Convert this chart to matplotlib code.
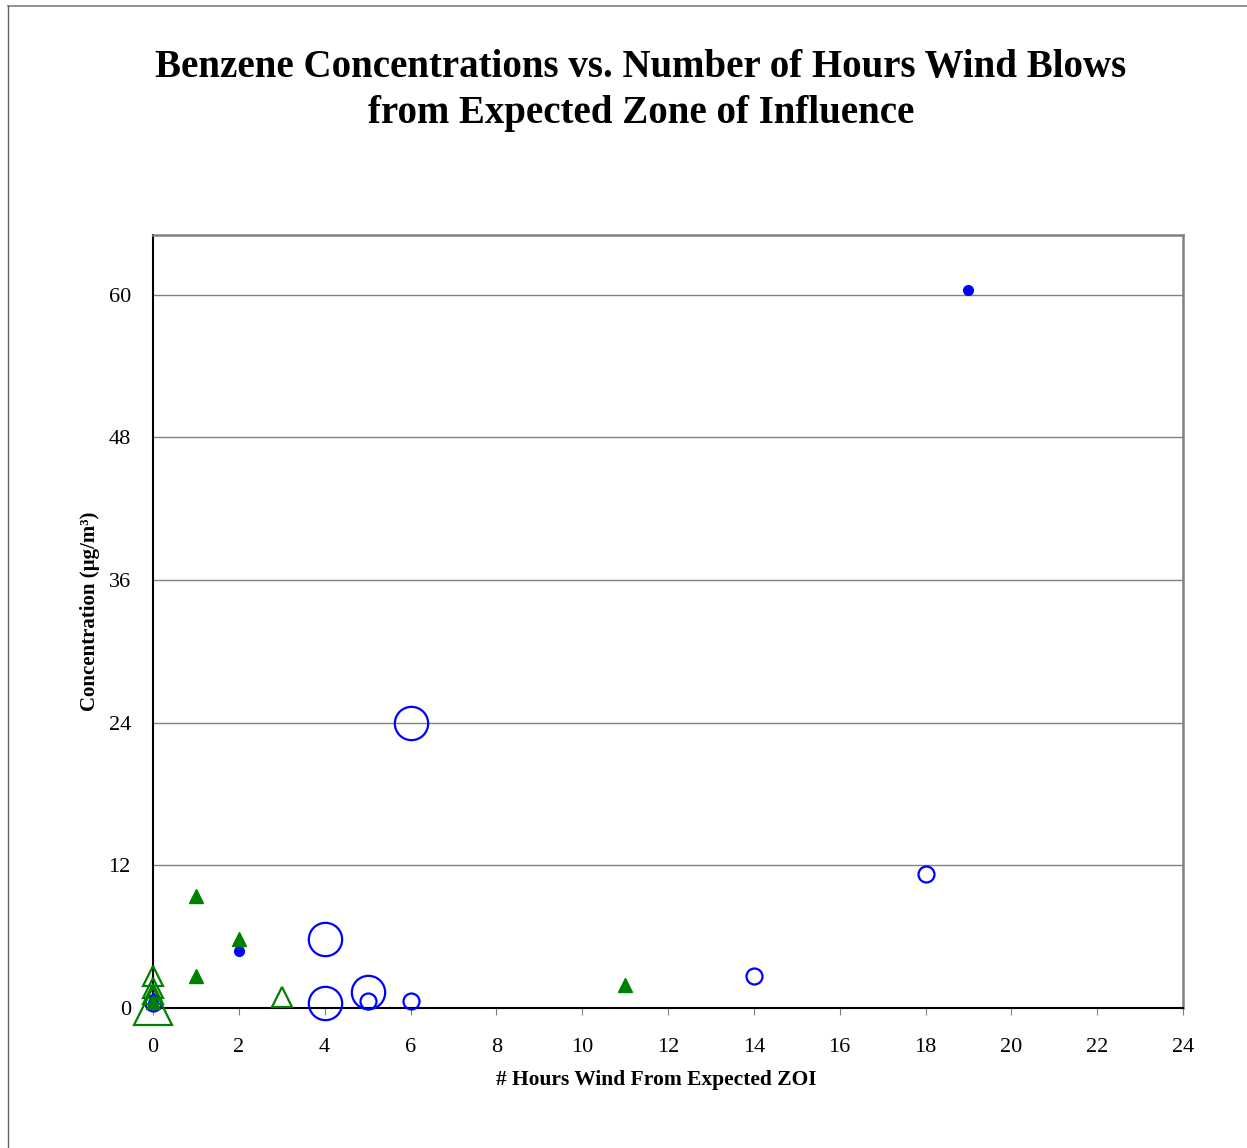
import matplotlib
matplotlib.use("Agg")
import matplotlib.pyplot as plt
from matplotlib.lines import Line2D

plt.rcParams['font.family'] = ['Liberation Serif', 'DejaVu Serif']

# hours of wind from expected ZOI vs benzene concentration
bigCircX = [6, 4, 4, 5]
bigCircY = [24.0, 5.8, 0.4, 1.3]

smallCircX = [18, 14, 5, 6, 0]
smallCircY = [11.3, 2.7, 0.6, 0.6, 0.4]

dotX = [19, 2]
dotY = [60.4, 4.8]

blueTriX = [0]
blueTriY = [0.9]

greenTriX = [1, 2, 1, 11, 0]
greenTriY = [9.4, 5.8, 2.7, 1.9, 0.5]

openTriX = [0, 0, 0, 3]
openTriY = [2.7, 1.7, 1.2, 0.9]

bigTriX = [0]
bigTriY = [0.2]

xTicks = list(range(0, 25, 2))
yTicks = [0, 12, 24, 36, 48, 60]

fig = plt.figure(figsize=(12.47, 11.48), dpi=100)
ax = fig.add_axes([0.1227, 0.122, 0.826, 0.673])

blue = '#0000ff'
green = '#008000'

ax.plot(bigCircX, bigCircY, 'o', ms=24, mfc='none', mec=blue, mew=1.6,
        clip_on=False, zorder=3)
ax.plot(smallCircX, smallCircY, 'o', ms=11.5, mfc='none', mec=blue, mew=1.6,
        clip_on=False, zorder=3)
ax.plot(dotX, dotY, 'o', ms=7, mfc=blue, mec=blue, clip_on=False, zorder=3)
ax.plot(blueTriX, blueTriY, '^', ms=7, mfc=blue, mec=blue, clip_on=False,
        zorder=3)
ax.plot(greenTriX, greenTriY, '^', ms=10, mfc=green, mec=green,
        clip_on=False, zorder=3)
ax.plot(openTriX, openTriY, '^', ms=14, mfc='none', mec=green, mew=1.6,
        clip_on=False, zorder=3)
ax.plot(bigTriX, bigTriY, '^', ms=28, mfc='none', mec=green, mew=1.6,
        clip_on=False, zorder=3)

ax.set_xlim(0, 24)
ax.set_ylim(0, 65)
ax.set_xticks(xTicks)
ax.set_yticks(yTicks)
ax.tick_params(axis='x', direction='out', length=5, color='#808080',
               labelsize=16, pad=17)
ax.tick_params(axis='y', length=0, labelsize=16, pad=16)
ax.yaxis.grid(True, color='#808080', lw=1)
ax.set_axisbelow(True)

for side in ['top', 'right']:
    ax.spines[side].set_color('#808080')
    ax.spines[side].set_linewidth(1.8)
for side in ['left', 'bottom']:
    ax.spines[side].set_color('black')
    ax.spines[side].set_linewidth(1.5)

ax.set_xlabel('# Hours Wind From Expected ZOI', fontsize=15.5,
              fontweight='bold')
ax.xaxis.set_label_coords(0.489, -0.08)
ax.set_ylabel('Concentration (\u00b5g/m\u00b3)', fontsize=15,
              fontweight='bold')
ax.yaxis.set_label_coords(-0.051, 0.514)

fig.text(0.514, 0.921, 'Benzene Concentrations vs. Number of Hours Wind Blows\n'
         'from Expected Zone of Influence', ha='center', va='center',
         fontsize=28, fontweight='bold', linespacing=1.3)

# page border
fig.add_artist(Line2D([0.0065, 1.0], [0.9948, 0.9948], color='#808080',
                      lw=1.2, transform=fig.transFigure))
fig.add_artist(Line2D([0.0065, 0.0065], [0.0, 0.9948], color='#606060',
                      lw=1, transform=fig.transFigure))

fig.savefig('out.png', dpi=100)
